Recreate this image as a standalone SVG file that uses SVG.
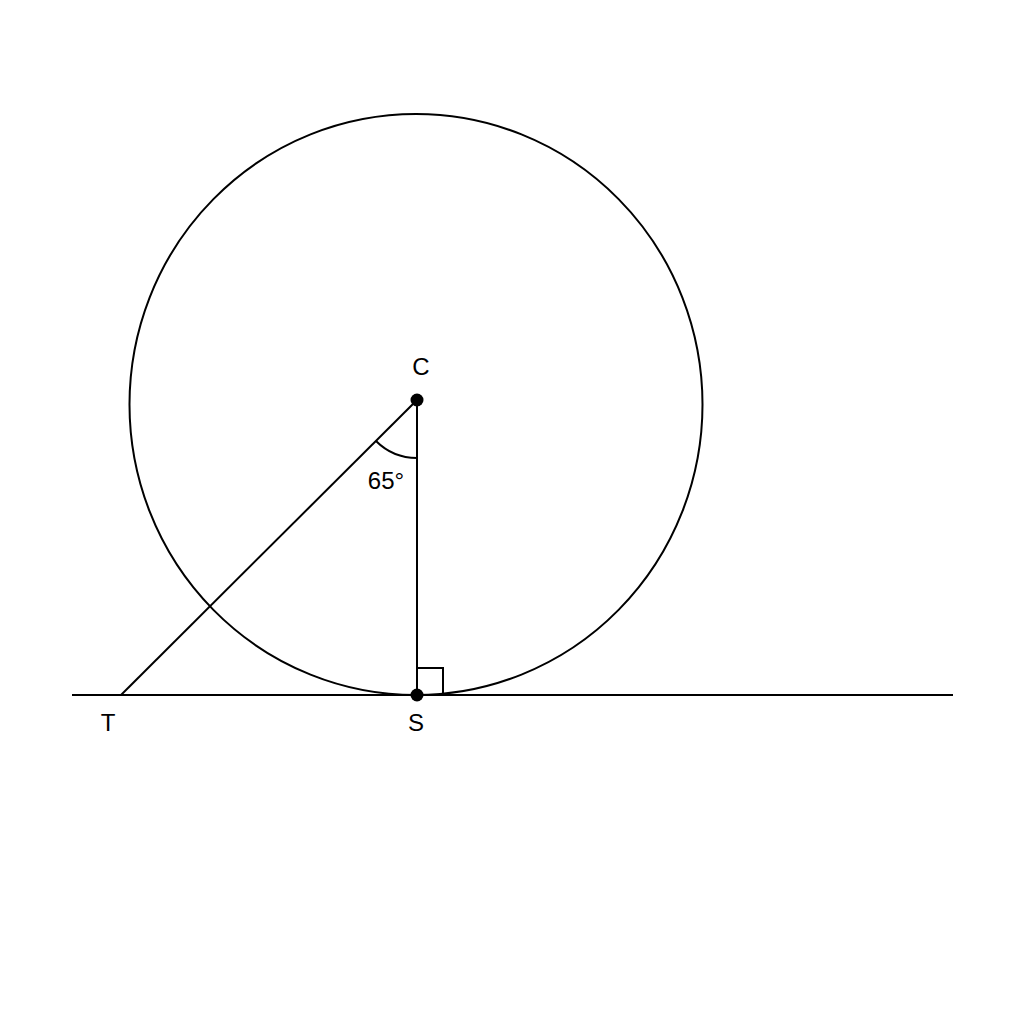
<svg xmlns="http://www.w3.org/2000/svg" width="1024" height="1024" viewBox="0 0 1024 1024">
<style>
.ln{fill:none;stroke:#000;stroke-width:2}
.lb{font-family:"Liberation Sans",Arial,sans-serif;font-size:24px;fill:#000;text-anchor:middle}
</style>
<rect width="1024" height="1024" fill="#fff"/>
<g id="circle"><ellipse class="ln" cx="416" cy="404.5" rx="286.5" ry="290.5"/></g>
<g id="connectors">
<line class="ln" x1="72" y1="695" x2="953" y2="695"/>
<line class="ln" x1="417" y1="400" x2="417" y2="695"/>
<line class="ln" x1="417" y1="400" x2="121" y2="695"/>
<path class="ln" d="M376 441 A58 58 0 0 0 417 458"/>
<path class="ln" d="M417 668 H443 V695"/>
</g>
<g id="C"><circle cx="417" cy="400" r="6.5" fill="#000"/><text class="lb" x="421" y="375">C</text></g>
<g id="S"><circle cx="417" cy="695" r="6.5" fill="#000"/><text class="lb" x="416" y="731">S</text></g>
<g id="T"><text class="lb" x="108" y="731">T</text></g>
<g id="angle"><text class="lb" x="386" y="489">65°</text></g>
</svg>
